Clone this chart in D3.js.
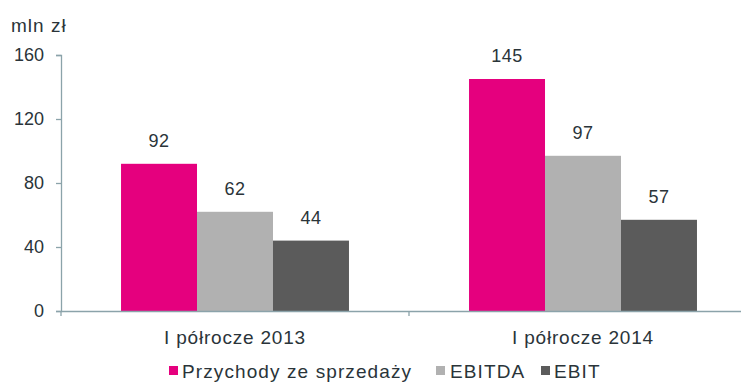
<!DOCTYPE html>
<html>
<head>
<meta charset="utf-8">
<script src="https://cdn.jsdelivr.net/npm/d3@7/dist/d3.min.js"></script>
<style>
  html, body { margin: 0; padding: 0; background: #ffffff; }
  svg { display: block; }
  text { font-family: "Liberation Sans", Arial, sans-serif; fill: #2a3439; }
</style>
</head>
<body>
<script>
// Half-year results, mln zł
const categories = ["I półrocze 2013", "I półrocze 2014"];
const seriesNames = ["Przychody ze sprzedaży", "EBITDA", "EBIT"];
const przychody = [92, 145];
const ebitda = [62, 97];
const ebit = [44, 57];
const yTicks = [0, 40, 80, 120, 160];
const colors = ["#e5007e", "#b1b1b1", "#5b5b5b"];

const seriesValues = [przychody, ebitda, ebit];

const W = 741, H = 383;
const margin = { left: 61, top: 55, bottom: 311 };

const svg = d3.select("body").append("svg")
  .attr("width", W).attr("height", H);

const y = d3.scaleLinear().domain([0, 160]).range([margin.bottom, margin.top]);
const x0 = d3.scaleBand().domain(categories).range([margin.left, 757]).paddingInner(0).paddingOuter(0);
const x1 = d3.scaleBand().domain(seriesNames).range([0, x0.bandwidth()]).paddingInner(0).paddingOuter(0.79);

const axisColor = "#8ba3aa";

// bars with value labels
categories.forEach((cat, ci) => {
  const g = svg.append("g").attr("transform", `translate(${x0(cat)},0)`);
  seriesNames.forEach((s, si) => {
    const v = seriesValues[si][ci];
    g.append("rect")
      .attr("x", x1(s))
      .attr("y", y(v))
      .attr("width", x1.bandwidth())
      .attr("height", y(0) - y(v))
      .attr("fill", colors[si]);
    g.append("text")
      .attr("x", x1(s) + x1.bandwidth() / 2)
      .attr("y", y(v) - 17)
      .attr("text-anchor", "middle")
      .style("font-size", "18px")
      .style("letter-spacing", "0.5px")
      .text(v);
  });
});

// y axis
const yAxis = svg.append("g")
  .attr("transform", `translate(${margin.left},0)`)
  .call(d3.axisLeft(y).tickValues(yTicks).tickSize(5).tickPadding(12));
yAxis.select(".domain").attr("stroke", axisColor).attr("stroke-width", 1.3);
yAxis.selectAll(".tick line").attr("stroke", axisColor).attr("stroke-width", 1.3);
yAxis.selectAll(".tick text")
  .style("font-size", "18px")
  .style("font-family", "'Liberation Sans', Arial, sans-serif")
  .attr("fill", "#2a3439");

// x axis
const xAxis = svg.append("g")
  .attr("transform", `translate(0,${margin.bottom})`)
  .call(d3.axisBottom(x0).tickSize(0).tickPadding(0));
xAxis.select(".domain").attr("stroke", axisColor).attr("stroke-width", 1.3);
xAxis.selectAll(".tick text").remove();
// separators between categories
[margin.left, x0(categories[1])].forEach(px => {
  xAxis.append("line").attr("x1", px).attr("x2", px).attr("y1", 0).attr("y2", 5)
    .attr("stroke", axisColor).attr("stroke-width", 1.3);
});
categories.forEach(cat => {
  svg.append("text")
    .attr("x", x0(cat) + x0.bandwidth() / 2)
    .attr("y", 344)
    .attr("text-anchor", "middle")
    .style("font-size", "19px")
    .style("letter-spacing", "0.8px")
    .text(cat);
});

// unit label
svg.append("text").attr("x", 11).attr("y", 32)
  .style("font-size", "19px")
  .style("letter-spacing", "1px")
  .text("mln zł");

// legend
const legendItems = [
  { x: 169, tx: 182 },
  { x: 436, tx: 450 },
  { x: 541, tx: 554 }
];
seriesNames.forEach((s, i) => {
  svg.append("rect").attr("x", legendItems[i].x).attr("y", 366)
    .attr("width", 9).attr("height", 9).attr("fill", colors[i]);
  svg.append("text").attr("x", legendItems[i].tx).attr("y", 378)
    .style("font-size", "19px")
    .style("letter-spacing", "1.1px")
    .text(s);
});
</script>
</body>
</html>
